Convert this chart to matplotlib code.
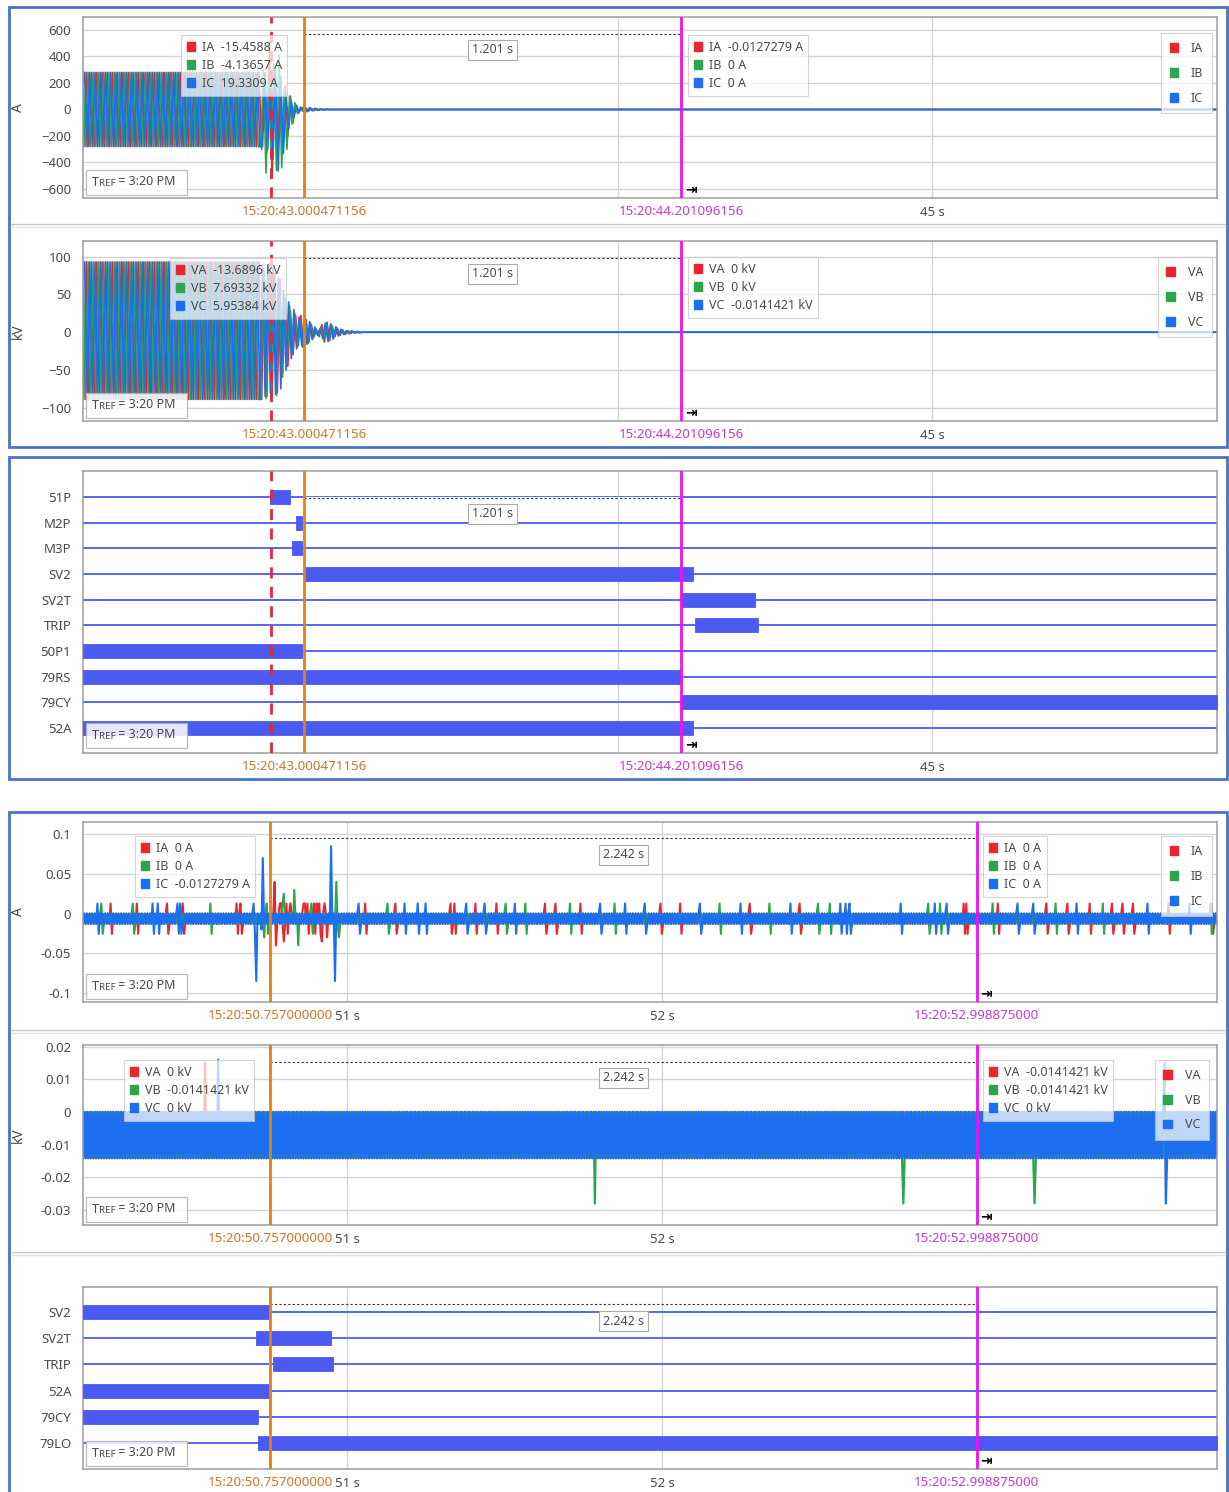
import matplotlib
matplotlib.use("Agg")
import matplotlib.pyplot as plt
from matplotlib.patches import Rectangle, Patch
from matplotlib.legend import Legend
from matplotlib.lines import Line2D
import numpy as np

plt.rcParams['font.family'] = ['Noto Sans', 'DejaVu Sans']

W, H = 1229, 1492
RED, GREEN, BLUE = '#e8262c', '#2ca64c', '#1b6ff0'
DIG = '#4b5bf2'
ORANGE, MAGENTA, TRIG = '#e8800e', '#ee12ee', '#e02a36'
ORANGE_TXT, MAGENTA_TXT = '#c8782a', '#c43cc8'
FRAME_BLUE = '#4a73c6'
GRID = '#d4d4d4'
TXT = '#4a4a4a'
PHASE_COLORS = [RED, GREEN, BLUE]

HALF = 1 / 120  # half cycle, 60 Hz system

# ---------------- record 1 : fault, trip, reclose ----------------
t1_range = (42.296, 45.908)
t1_ticks = [43, 44, 45]
t1_tick_labels = ['', '', '45 s']   # 43 s and 44 s sit under the cursor labels
t1_trigger = 42.895
t1_cursor_a = 43.000471156
t1_cursor_b = 44.201096156
t1_label_a = '15:20:43.000471156'
t1_label_b = '15:20:44.201096156'
t1_span = '1.201 s'

phase_start = [42.290, 42.2956, 42.3011]   # first peak of A, B, C
pre_cycles = 34
i_pre = (280, -280)
v_pre = (93, -89)

ia_fault = [280, -300, 250, -320, 515, -510, 300, -380, 200, -260, 175, -200, 100, -100, 40, -30]
ib_fault = [-280, 300, -480, 200, -350, 350, -460, 410, -440, 150, -300, 100, -110, 50, -30, 10]
ic_fault = [-280, 280, -300, 250, -380, 300, -465, 250, -330, 120, -150, 60, -60, 30, -20, 10]
ia_post = [18, -15, 12, -12, 8, -8, 5, -5, 3, -3, 2, -2]
ib_post = [-12, 15, -10, 10, -8, 6, -5, 4, -3, 2, -2, 1]
ic_post = [15, -18, 14, -10, 9, -7, 5, -4, 3, -2, 2, -1]

va_fault = [93, -89, 80, -85, 91, -86, 78, -80, 70, -59, 45, -45, 28, -30, 22, -18]
vb_fault = [-89, 85, -88, 90, -85, 75, -84, 65, -60, 50, -40, 35, -25, 25, -20, 15]
vc_fault = [90, -85, 88, -80, 85, -82, 72, -75, 55, -50, 40, -35, 30, -22, 20, -18]
va_post = [22, -20, 17, -14, 10, -6, 3, -6, 10, -13, 13, -11, 8, -6, 5, -4, 3, -3, 2, -2, 1, -1]
vb_post = [-20, 18, -15, 12, -8, 5, -4, 7, -11, 12, -12, 10, -7, 6, -4, 3, -3, 2, -1, 1, -1, 1]
vc_post = [18, -16, 14, -10, 7, -4, 5, -8, 12, -12, 11, -9, 7, -5, 4, -3, 2, -2, 2, -1, 1, -1]

dig1_names = ['51P', 'M2P', 'M3P', 'SV2', 'SV2T', 'TRIP', '50P1', '79RS', '79CY', '52A']
dig1_start = [42.892, 42.975, 42.962, 43.002, 44.204, 44.245, 42.296, 42.296, 44.202, 42.296]
dig1_end = [42.955, 42.994, 42.994, 44.239, 44.436, 44.446, 42.994, 44.200, 45.908, 44.239]

# ---------------- record 2 : reclose, lockout ----------------
t2_range = (50.162, 53.762)
t2_ticks = [51, 52, 53]
t2_tick_labels = ['51 s', '52 s', '']   # 53 s sits under the cursor label
t2_cursor_a = 50.757
t2_cursor_b = 52.998875
t2_label_a = '15:20:50.757000000'
t2_label_b = '15:20:52.998875000'
t2_span = '2.242 s'

i_noise_levels = [0.0, -0.0127279]
v_noise_levels = [0.0, -0.0141421]
i_spike_up, i_spike_dn = 0.0127, -0.0255

ia_spike_t = [50.248, 50.333, 50.429, 50.479, 50.651, 50.660, 50.787, 50.806, 50.860, 50.876,
              50.897, 50.911, 51.057, 51.152, 51.327, 51.343, 51.406, 51.476, 51.629, 51.660,
              51.740, 51.994, 52.057, 52.279, 52.438, 52.956, 52.968, 53.067, 53.222, 53.286,
              53.359, 53.429, 53.460, 53.495, 53.606, 53.746]
ib_spike_t = [50.222, 50.321, 50.565, 50.746, 50.797, 50.886, 51.127, 51.502, 51.565, 51.708,
              51.851, 52.184, 52.343, 52.495, 52.533, 52.844, 52.883, 53.051, 53.248, 53.400,
              53.740]
ic_spike_t = [50.206, 50.384, 50.400, 50.460, 50.470, 50.702, 51.035, 51.184, 51.225, 51.248,
              51.378, 51.438, 51.533, 51.803, 51.883, 51.946, 52.121, 52.248, 52.406, 52.565,
              52.581, 52.597, 52.756, 52.867, 52.905, 53.127, 53.178, 53.317, 53.540, 53.676]
ia_event_t = [50.772, 50.776, 50.790, 50.800, 50.820, 50.868, 50.905, 50.922, 50.930, 50.935]
ia_event_v = [0.040, -0.040, 0.013, -0.035, 0.013, 0.013, 0.013, -0.035, 0.013, -0.030]
ib_event_t = [50.738, 50.800, 50.833, 50.845, 50.966, 50.975]
ib_event_v = [-0.030, 0.025, 0.030, -0.040, 0.040, -0.030]
ic_event_t = [50.713, 50.728, 50.733, 50.950, 50.963]
ic_event_v = [-0.085, -0.020, 0.070, 0.085, -0.085]

va_event_t = [50.549]
va_event_v = [0.015]
vb_event_t = [51.787, 52.765, 53.184]
vb_event_v = [-0.028, -0.028, -0.028]
vc_event_t = [50.590, 53.594, 53.600]
vc_event_v = [0.016, 0.015, -0.028]

dig2_names = ['SV2', 'SV2T', 'TRIP', '52A', '79CY', '79LO']
dig2_start = [50.162, 50.711, 50.765, 50.162, 50.162, 50.717]
dig2_end = [50.752, 50.949, 50.956, 50.752, 50.717, 53.762]


def peak_trace(t0, pre, cycles, fault, post, t_end):
    vals = list(pre) * cycles + fault + post + [0]
    t = t0 + HALF * np.arange(len(vals))
    return np.append(t, t_end), np.append(vals, 0)


def noise_trace(t_range, levels, step, spike_t, ev_t, ev_v):
    t = np.arange(t_range[0] - step, t_range[1] + step, step)
    y = np.resize(np.array(levels, float), t.size)
    for ts in spike_t:
        k = int(round((ts - t[0]) / step))
        y[k] = i_spike_up
        y[k + 1] = i_spike_dn
    for ts, v in zip(ev_t, ev_v):
        k = int(round((ts - t[0]) / step))
        y[k] = v
    return t, y


def add_axes_px(fig, left, top, right, bottom):
    return fig.add_axes([left / W, 1 - bottom / H, (right - left) / W, (bottom - top) / H])


def style_axes(ax, t_range, ticks, tick_labels):
    ax.set_xlim(*t_range)
    ax.set_xticks(ticks, tick_labels)
    ax.tick_params(length=0, labelsize=9.5, labelcolor=TXT)
    ax.tick_params(axis='x', pad=5.5)
    ax.tick_params(axis='y', pad=8.5)
    for s in ax.spines.values():
        s.set_color('#9c9c9c')
        s.set_linewidth(1.1)
    ax.grid(axis='x', color=GRID, lw=1)
    ax.set_axisbelow(True)


def set_unit(ax, unit):
    ax.set_ylabel(unit, fontsize=10, color=TXT)
    ax.yaxis.set_label_coords(-0.05, 0.5)


def cursors(ax, a, b, label_a, label_b, span, span_y, box_y, trigger=None, hide_line=False):
    tr = ax.get_xaxis_transform()
    if trigger is not None:
        ax.axvline(trigger, color=TRIG, lw=2, ls=(0, (4, 3)), zorder=5)
    ax.axvline(a, color=ORANGE, lw=2, zorder=5)
    ax.axvline(b, color=MAGENTA, lw=2, zorder=5)
    if hide_line:
        ax.plot([a, b], [span_y, span_y], transform=tr, color='white', lw=2.2, zorder=3)
    ax.plot([a, b], [span_y, span_y], transform=tr, color='#333333', lw=0.8,
            ls=(0, (2, 2)), zorder=4)
    ax.text((a + b) / 2, box_y, span, transform=tr, ha='center', va='center', fontsize=9,
            color=TXT, zorder=9,
            bbox=dict(boxstyle='square,pad=0.3', fc='white', ec='#aaaaaa', lw=0.8))
    for t, lab, col in [(a, label_a, ORANGE_TXT), (b, label_b, MAGENTA_TXT)]:
        ax.annotate(lab, xy=(t, 0), xycoords=tr, xytext=(0, -10), textcoords='offset points',
                    ha='center', va='center', fontsize=9.6, color=col, zorder=10,
                    annotation_clip=False, bbox=dict(boxstyle='square,pad=0.15', fc='white', ec='none'))
    ax.annotate('\u21e5', xy=(b, 0), xycoords=tr, xytext=(7, 6), textcoords='offset points',
                ha='center', va='center', fontsize=10, color='black', fontweight='bold',
                family='DejaVu Sans', zorder=10)


def tref(ax, height_frac):
    ax.add_patch(Rectangle((0.0026, 0.017), 0.089, height_frac, transform=ax.transAxes,
                           fc='white', ec='#b0b0b0', lw=0.9, alpha=0.85, zorder=8))
    t1 = ax.text(0.0075, 0.017 + height_frac / 2, 'T', transform=ax.transAxes, fontsize=9,
                 color=TXT, va='center', zorder=9)
    t2 = ax.annotate('REF', xy=(1, 0.08), xycoords=t1, fontsize=7, color=TXT, va='bottom', zorder=9)
    ax.annotate(' = 3:20 PM', xy=(1, 0), xycoords=t2, fontsize=9, color=TXT, va='bottom', zorder=9)


def value_legend(ax, labels, x, y, loc='upper left', spacing=0.42, pad=0.45, textpad=0.5):
    handles = [Patch(facecolor=c, edgecolor=c) for c in PHASE_COLORS]
    leg = Legend(ax, handles, labels, loc=loc, bbox_to_anchor=(x, y), fontsize=9,
                 handlelength=0.7, handleheight=0.7, handletextpad=textpad,
                 labelspacing=spacing, borderpad=pad, frameon=True, fancybox=False,
                 framealpha=0.72, edgecolor='#c4c4c4', borderaxespad=0, labelcolor=TXT)
    leg.get_frame().set_linewidth(0.8)
    leg.set_zorder(8)
    ax.add_artist(leg)


def draw_digital(ax, names, starts, ends, t_range):
    ys = np.arange(len(names))[::-1]
    for y, s, e in zip(ys, starts, ends):
        ax.plot(t_range, [y, y], color=DIG, lw=1.3, zorder=2)
        ax.broken_barh([(s, e - s)], (y - 0.27, 0.54), facecolor=DIG, edgecolor=DIG,
                       lw=0.6, zorder=3)
    ax.set_yticks(ys, names)


fig = plt.figure(figsize=(W / 100, H / 100), dpi=100)

# outer blue frames and panel separators
for x0, y0, x1, y1 in [(9, 7, 1227, 447), (9, 457, 1227, 779), (9, 812, 1227, 1502)]:
    fig.add_artist(Rectangle((x0 / W, 1 - y1 / H), (x1 - x0) / W, (y1 - y0) / H,
                             transform=fig.transFigure, fill=False, ec=FRAME_BLUE, lw=2))
for y in [224, 1030, 1252]:
    fig.add_artist(Line2D([11 / W, 1225 / W], [1 - y / H] * 2, color='#c8c8c8', lw=1))
    fig.add_artist(Line2D([11 / W, 1225 / W], [1 - (y + 3) / H] * 2, color='#e2e2e2', lw=1))

# ---- panel 1: currents, record 1
ax = add_axes_px(fig, 83, 17, 1217, 198)
style_axes(ax, t1_range, t1_ticks, t1_tick_labels)
for t0, fault, post, c in zip(phase_start, [ia_fault, ib_fault, ic_fault],
                              [ia_post, ib_post, ic_post], PHASE_COLORS):
    t, y = peak_trace(t0, i_pre, pre_cycles, fault, post, t1_range[1])
    ax.plot(t, y, color=c, lw=1.2, zorder=2)
ax.set_ylim(-668, 698)
ax.set_yticks([-600, -400, -200, 0, 200, 400, 600])
ax.grid(axis='y', color=GRID, lw=1)
set_unit(ax, 'A')
cursors(ax, t1_cursor_a, t1_cursor_b, t1_label_a, t1_label_b, t1_span, 0.906, 0.818, trigger=t1_trigger)
value_legend(ax, ['IA  -15.4588 A', 'IB  -4.13657 A', 'IC  19.3309 A'], 0.0864, 0.90)
value_legend(ax, ['IA  -0.0127279 A', 'IB  0 A', 'IC  0 A'], 0.5335, 0.90)
value_legend(ax, ['IA', 'IB', 'IC'], 0.9956, 0.911, loc='upper right', spacing=0.95, pad=0.7, textpad=1.0)
tref(ax, 0.138)

# ---- panel 2: voltages, record 1
ax = add_axes_px(fig, 83, 241, 1217, 421)
style_axes(ax, t1_range, t1_ticks, t1_tick_labels)
for t0, fault, post, c in zip(phase_start, [va_fault, vb_fault, vc_fault],
                              [va_post, vb_post, vc_post], PHASE_COLORS):
    t, y = peak_trace(t0, v_pre, pre_cycles, fault, post, t1_range[1])
    ax.plot(t, y, color=c, lw=1.2, zorder=2)
ax.set_ylim(-117.6, 120.8)
ax.set_yticks([-100, -50, 0, 50, 100])
ax.grid(axis='y', color=GRID, lw=1)
set_unit(ax, 'kV')
cursors(ax, t1_cursor_a, t1_cursor_b, t1_label_a, t1_label_b, t1_span, 0.906, 0.817, trigger=t1_trigger)
value_legend(ax, ['VA  -13.6896 kV', 'VB  7.69332 kV', 'VC  5.95384 kV'], 0.0767, 0.905)
value_legend(ax, ['VA  0 kV', 'VB  0 kV', 'VC  -0.0141421 kV'], 0.5335, 0.911)
value_legend(ax, ['VA', 'VB', 'VC'], 0.9956, 0.911, loc='upper right', spacing=0.95, pad=0.7, textpad=1.0)
tref(ax, 0.138)

# ---- panel 3: digital elements, record 1
ax = add_axes_px(fig, 83, 471, 1217, 753)
style_axes(ax, t1_range, t1_ticks, t1_tick_labels)
draw_digital(ax, dig1_names, dig1_start, dig1_end, t1_range)
ax.set_ylim(-0.97, 10.01)
cursors(ax, t1_cursor_a, t1_cursor_b, t1_label_a, t1_label_b, t1_span, 0.906, 0.848,
        trigger=t1_trigger, hide_line=True)
tref(ax, 0.088)

# ---- panel 4: currents, record 2
ax = add_axes_px(fig, 83, 822, 1217, 1002)
style_axes(ax, t2_range, t2_ticks, t2_tick_labels)
for spk, ev_t, ev_v, c in zip([ia_spike_t, ib_spike_t, ic_spike_t], [ia_event_t, ib_event_t, ic_event_t],
                              [ia_event_v, ib_event_v, ic_event_v], PHASE_COLORS):
    t, y = noise_trace(t2_range, i_noise_levels, 1 / 240, spk, ev_t, ev_v)
    ax.plot(t, y, color=c, lw=1.5, zorder=2)
ax.set_ylim(-0.1113, 0.1154)
ax.set_yticks([-0.1, -0.05, 0, 0.05, 0.1], ['-0.1', '-0.05', '0', '0.05', '0.1'])
ax.grid(axis='y', color=GRID, lw=1)
set_unit(ax, 'A')
cursors(ax, t2_cursor_a, t2_cursor_b, t2_label_a, t2_label_b, t2_span, 0.911, 0.817)
value_legend(ax, ['IA  0 A', 'IB  0 A', 'IC  -0.0127279 A'], 0.0459, 0.922)
value_legend(ax, ['IA  0 A', 'IB  0 A', 'IC  0 A'], 0.7937, 0.922)
value_legend(ax, ['IA', 'IB', 'IC'], 0.9956, 0.922, loc='upper right', spacing=0.95, pad=0.7, textpad=1.0)
tref(ax, 0.138)

# ---- panel 5: voltages, record 2
ax = add_axes_px(fig, 83, 1045, 1217, 1225)
style_axes(ax, t2_range, t2_ticks, t2_tick_labels)
for ev_t, ev_v, c in zip([va_event_t, vb_event_t, vc_event_t], [va_event_v, vb_event_v, vc_event_v],
                         PHASE_COLORS):
    t, y = noise_trace(t2_range, v_noise_levels, 1 / 240, [], ev_t, ev_v)
    ax.plot(t, y, color=c, lw=1.6, zorder=2)
ax.set_ylim(-0.0346, 0.0205)
ax.set_yticks([-0.03, -0.02, -0.01, 0, 0.01, 0.02], ['-0.03', '-0.02', '-0.01', '0', '0.01', '0.02'])
ax.grid(axis='y', color=GRID, lw=1)
set_unit(ax, 'kV')
cursors(ax, t2_cursor_a, t2_cursor_b, t2_label_a, t2_label_b, t2_span, 0.906, 0.817)
value_legend(ax, ['VA  0 kV', 'VB  -0.0141421 kV', 'VC  0 kV'], 0.0362, 0.917)
value_legend(ax, ['VA  -0.0141421 kV', 'VB  -0.0141421 kV', 'VC  0 kV'], 0.7937, 0.917)
value_legend(ax, ['VA', 'VB', 'VC'], 0.993, 0.917, loc='upper right', spacing=0.95, pad=0.7, textpad=1.0)
tref(ax, 0.138)

# ---- panel 6: digital elements, record 2
ax = add_axes_px(fig, 83, 1287, 1217, 1469)
style_axes(ax, t2_range, t2_ticks, t2_tick_labels)
draw_digital(ax, dig2_names, dig2_start, dig2_end, t2_range)
ax.set_ylim(-0.99, 5.95)
cursors(ax, t2_cursor_a, t2_cursor_b, t2_label_a, t2_label_b, t2_span, 0.907, 0.813)
tref(ax, 0.137)

fig.savefig('out.png', dpi=100, facecolor='white')
